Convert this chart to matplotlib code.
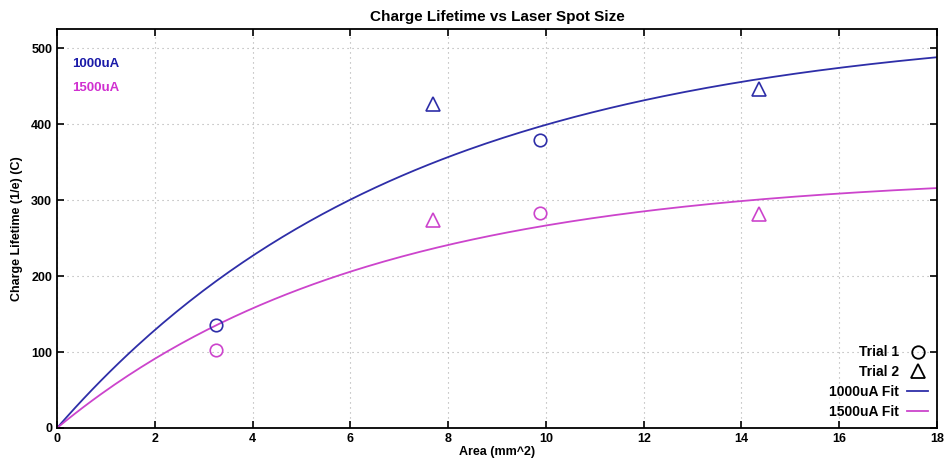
import numpy as np
import matplotlib
matplotlib.use("Agg")
import matplotlib.pyplot as plt
from matplotlib.lines import Line2D

plt.rcParams['font.family'] = ['Liberation Sans', 'DejaVu Sans']

# Measured data (area mm^2, lifetime C)
trial1_x = [3.25, 9.88]
trial2_x = [7.69, 14.36]
i1000_trial1 = [135.5, 379]
i1000_trial2 = [426, 446]
i1500_trial1 = [102.5, 283]
i1500_trial2 = [274, 281]

# Fit parameters: A * (1 - exp(-x / tau))
fit1000_A, fit1000_tau = 531.6, 7.2
fit1500_A, fit1500_tau = 335.0, 6.3

blue = '#2e2ea8'
magenta = '#cc44cc'

fig = plt.figure(figsize=(9.46, 4.62), dpi=100)
ax = fig.add_axes([0.0603, 0.0736, 0.9302, 0.8634])

xf = np.linspace(0, 18, 200)
ax.plot(xf, fit1000_A * (1 - np.exp(-xf / fit1000_tau)), color=blue, lw=1.3)
ax.plot(xf, fit1500_A * (1 - np.exp(-xf / fit1500_tau)), color=magenta, lw=1.3)

ms = 9
ax.plot(trial1_x, i1000_trial1, 'o', mfc='none', mec=blue, ms=ms, mew=1.2)
ax.plot(trial2_x, i1000_trial2, '^', mfc='none', mec=blue, ms=ms + 1, mew=1.2)
ax.plot(trial1_x, i1500_trial1, 'o', mfc='none', mec=magenta, ms=ms, mew=1.2)
ax.plot(trial2_x, i1500_trial2, '^', mfc='none', mec=magenta, ms=ms + 1, mew=1.2)

ax.set_xlim(0, 18)
ax.set_ylim(0, 525)
ax.set_xticks(np.arange(0, 19, 2))
ax.set_yticks(np.arange(0, 501, 100))
ax.grid(True, linestyle=(0, (1, 3.5)), color='#aaaaaa', lw=0.8)
ax.tick_params(direction='in', top=True, right=True, length=5, width=1.2, labelsize=9)
for lab in ax.get_xticklabels() + ax.get_yticklabels():
    lab.set_fontweight('bold')
for s in ax.spines.values():
    s.set_linewidth(1.3)

ax.set_title('Charge Lifetime vs Laser Spot Size', fontsize=11, fontweight='bold', pad=6)
ax.set_xlabel('Area (mm^2)', fontsize=9, fontweight='bold', labelpad=1)
ax.set_ylabel('Charge Lifetime (1/e) (C)', fontsize=9, fontweight='bold', labelpad=6)

ax.text(0.017, 0.913, '1000uA', transform=ax.transAxes, color='#1a1aa8',
        fontsize=9.5, fontweight='bold', va='center')
ax.text(0.017, 0.853, '1500uA', transform=ax.transAxes, color='#d030d0',
        fontsize=9.5, fontweight='bold', va='center')

handles = [
    Line2D([], [], marker='o', ls='none', mfc='none', mec='black', ms=9, mew=1.3),
    Line2D([], [], marker='^', ls='none', mfc='none', mec='black', ms=10, mew=1.3),
    Line2D([], [], color=blue, lw=1.3),
    Line2D([], [], color=magenta, lw=1.3),
]
labels = ['Trial 1', 'Trial 2', '1000uA Fit', '1500uA Fit']
leg = ax.legend(handles, labels, loc='lower right', frameon=False, markerfirst=False,
                handlelength=1.5, handletextpad=0.6, labelspacing=0.42,
                prop={'weight': 'bold', 'size': 10}, borderaxespad=0.25)
leg.set_zorder(5)

fig.savefig('out.png', dpi=100)
